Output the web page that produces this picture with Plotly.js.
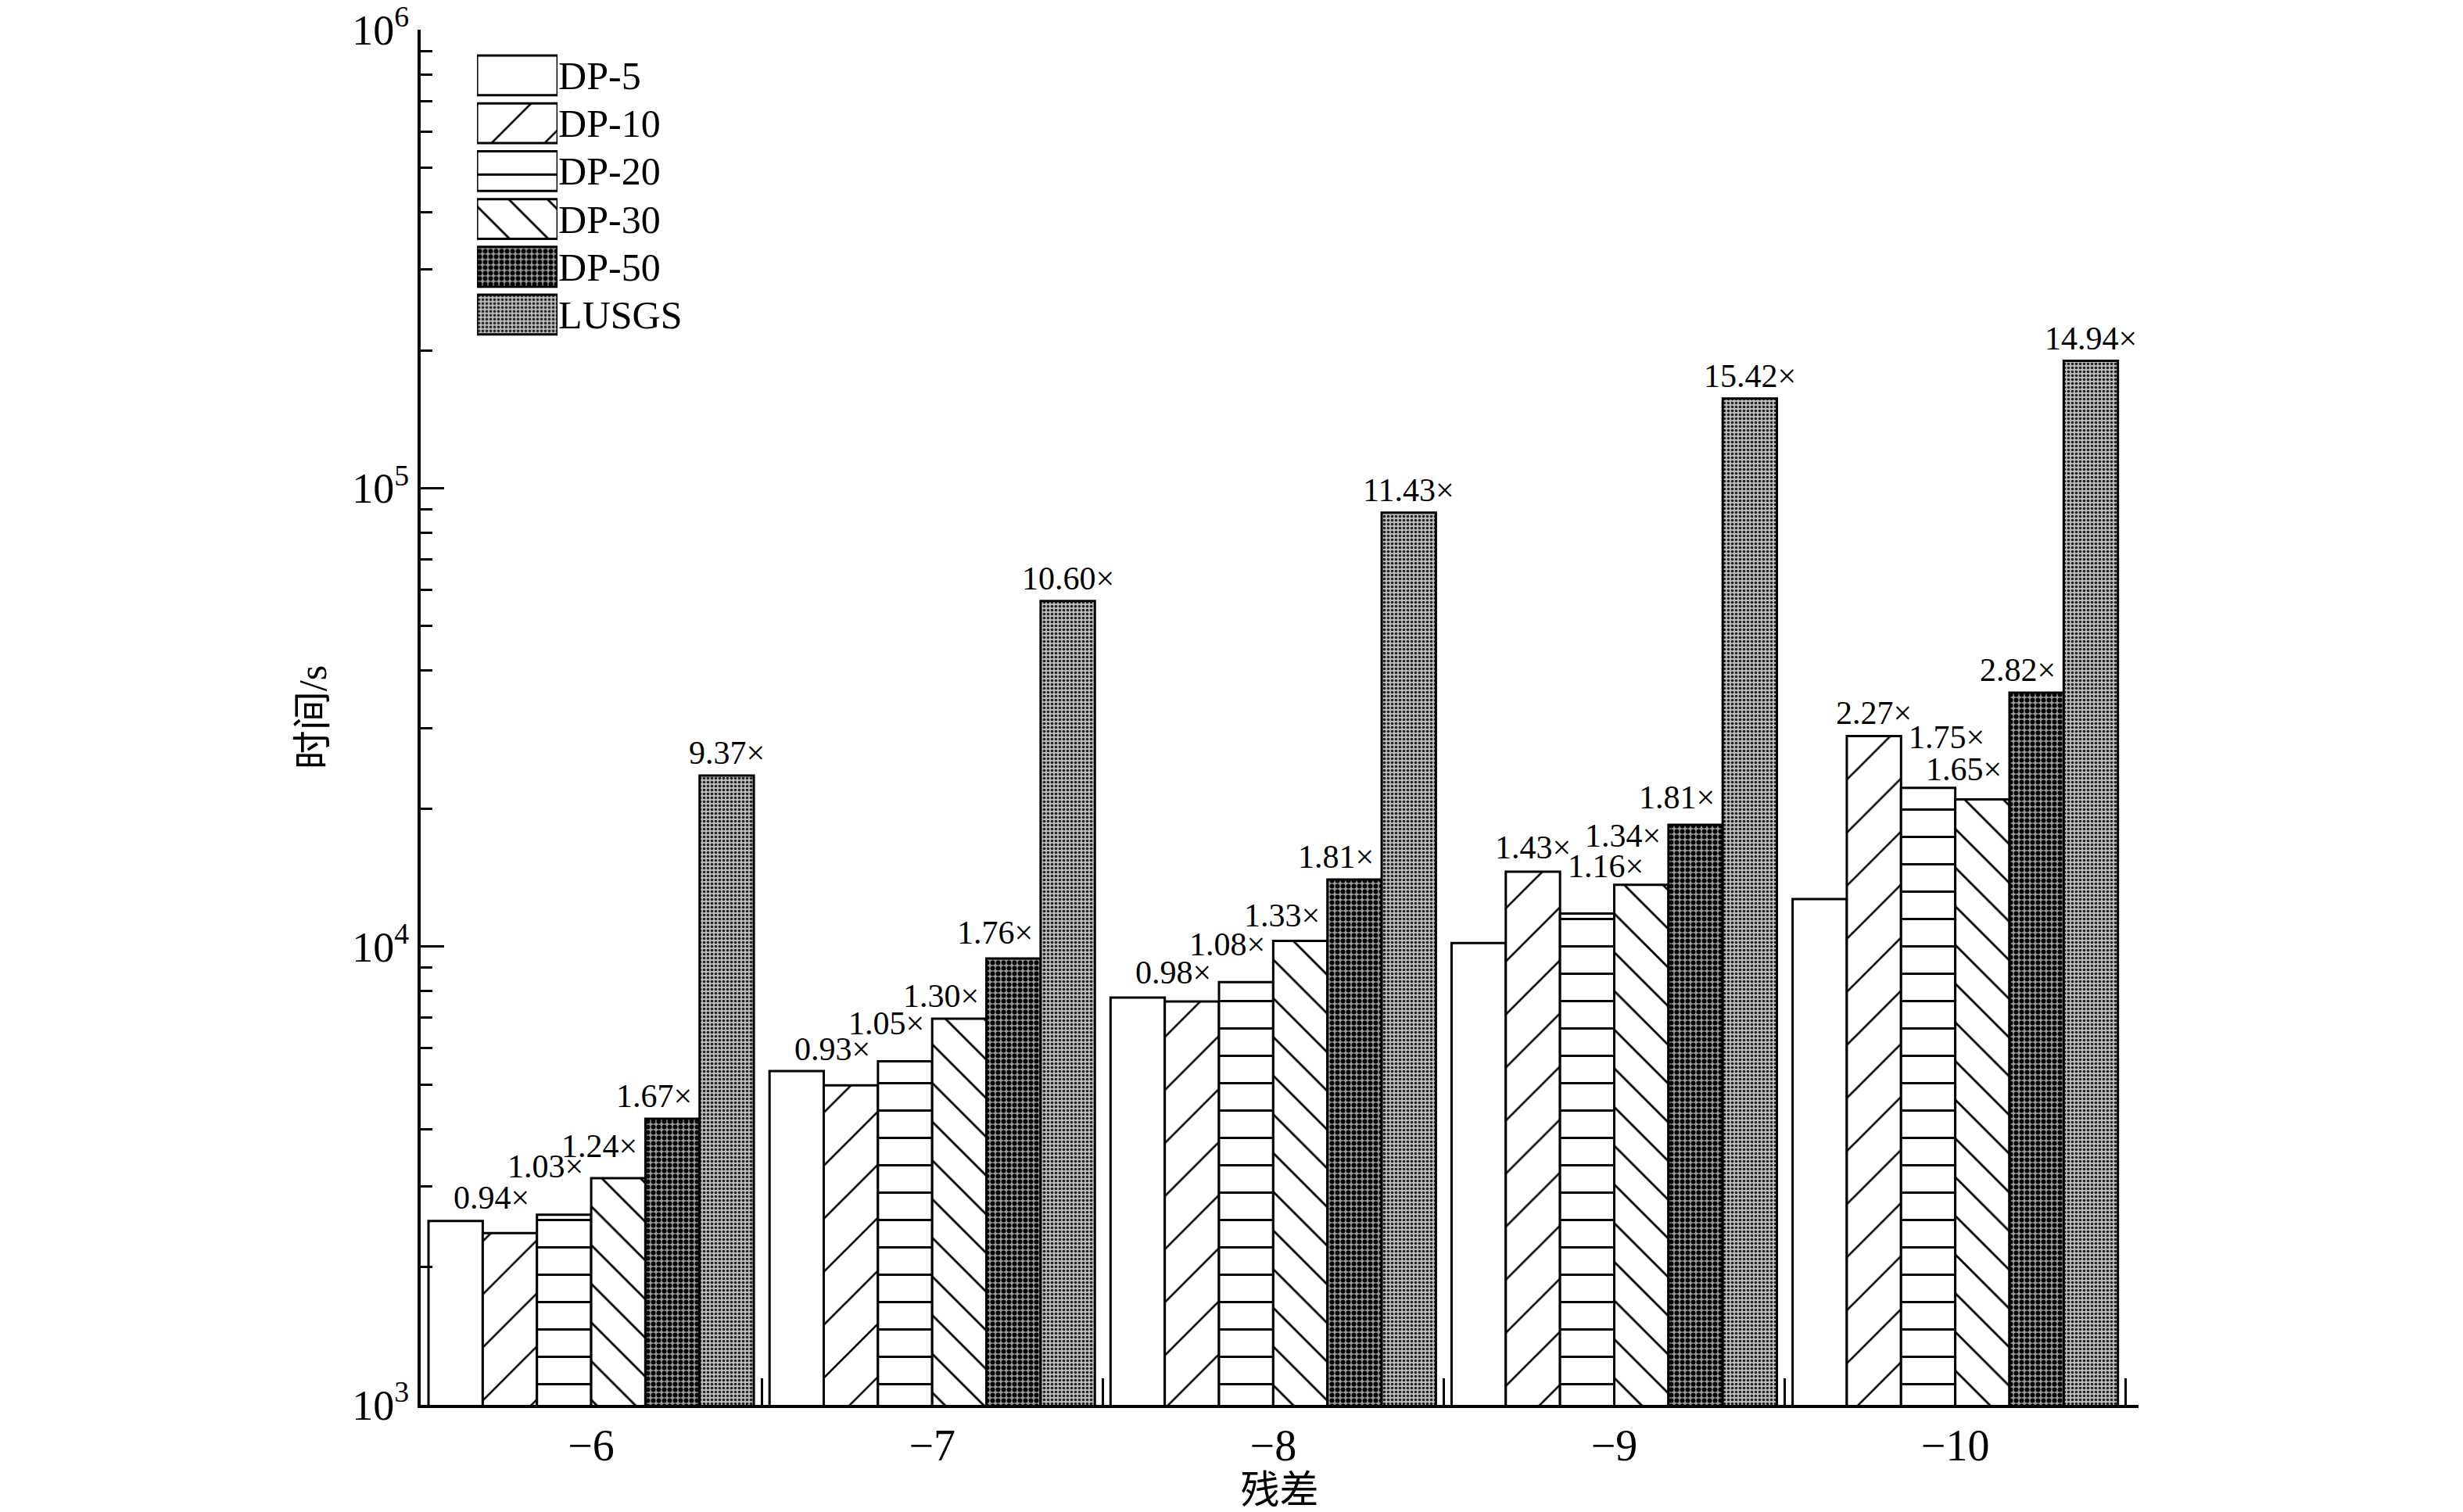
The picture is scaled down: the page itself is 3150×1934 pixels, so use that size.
<!DOCTYPE html>
<html>
<head>
<meta charset="utf-8">
<script src="https://cdn.plot.ly/plotly-3.0.1.min.js"></script>
<style>
  html, body { margin: 0; padding: 0; background: #fff; }
  #chart { width: 3150px; height: 1934px; }
</style>
</head>
<body>
<div id="chart"></div>
<script>
/* ── Data ────────────────────────────────────────────────── */
const categories = ['\u22126', '\u22127', '\u22128', '\u22129', '\u221210'];
const seriesNames = ['DP-5', 'DP-10', 'DP-20', 'DP-30', 'DP-50', 'LUSGS'];

const dp5   = [2520, 5350, 7740, 10180, 12690];
const dp10  = [2370, 4980, 7590, 14560, 28800];
const dp20  = [2600, 5620, 8360, 11810, 22200];
const dp30  = [3125, 6960, 10290, 13640, 20940];
const dp50  = [4210, 9420, 14010, 18430, 35790];
const lusgs = [23600, 56750, 88470, 157000, 189600];

const dp10Ratio  = ['0.94×', '0.93×', '0.98×', '1.43×', '2.27×'];
const dp20Ratio  = ['1.03×', '1.05×', '1.08×', '1.16×', '1.75×'];
const dp30Ratio  = ['1.24×', '1.30×', '1.33×', '1.34×', '1.65×'];
const dp50Ratio  = ['1.67×', '1.76×', '1.81×', '1.81×', '2.82×'];
const lusgsRatio = ['9.37×', '10.60×', '11.43×', '15.42×', '14.94×'];

const yTickVals = [1000, 10000, 100000, 1000000];
const yTickText = ['10<sup>3</sup>', '10<sup>4</sup>', '10<sup>5</sup>', '10<sup>6</sup>'];

/* ── Styles ───────────────────────────────────────────────── */
const FONT = 'Liberation Serif, "Noto Sans CJK SC", serif';
const BARGAP = 0.046;
const styles = [
  { shape: '',   fg: '#000', bg: '#fff',    size: 10, solidity: 0.2 },
  { shape: '/',  fg: '#000', bg: '#fff',    size: 48, solidity: 0.055 },
  { shape: '-',  fg: '#000', bg: '#fff',    size: 35, solidity: 0.08 },
  { shape: '\\', fg: '#000', bg: '#fff',    size: 35, solidity: 0.08 },
  { shape: '.',  fg: '#000', bg: '#9a9a9a', size: 7,  solidity: 0.55 },
  { shape: '.',  fg: '#222', bg: '#bcbcbc', size: 5,  solidity: 0.42 }
];

/* label placement: anchor against the bar ('r' right edge, 'c' centre, 'l' left edge)
   and extra lift in px, per group, copied from the hand-placed reference labels */
const labelAnchor = [
  null,
  ['r', 'r', 'r', 'c', 'c'],
  ['r', 'r', 'r', 'l', 'l'],
  ['r', 'r', 'r', 'r', 'r'],
  ['r', 'r', 'r', 'r', 'r'],
  ['c', 'c', 'c', 'c', 'c']
];
const labelLift = [
  null,
  [16, 17, 8, 2, 0],
  [33, 19, 19, 31, 36],
  [12, 0, 3, 34, 10],
  [0, 4, 0, 6, 0],
  [0, 0, 0, 0, 0]
];

const values = [dp5, dp10, dp20, dp30, dp50, lusgs];
const labels = [null, dp10Ratio, dp20Ratio, dp30Ratio, dp50Ratio, lusgsRatio];

function patternOf(s) {
  return { shape: s.shape, fgcolor: s.fg, bgcolor: s.bg, size: s.size,
           solidity: s.solidity, fillmode: 'replace' };
}

/* ── Main bars ────────────────────────────────────────────── */
const traces = values.map((v, i) => ({
  type: 'bar',
  x: categories,
  y: v,
  name: seriesNames[i],
  offsetgroup: 'g' + i,
  showlegend: false,
  marker: {
    color: styles[i].bg,
    line: { color: '#000', width: 3 },
    pattern: patternOf(styles[i])
  }
}));

/* ── Legend drawn as a tiny bar subplot (big patterned swatches) ── */
seriesNames.forEach((name, i) => {
  traces.push({
    type: 'bar',
    orientation: 'h',
    xaxis: 'x2', yaxis: 'y2',
    y: [name],
    x: [1],
    width: 0.83,
    offsetgroup: 'legend',
    showlegend: false,
    hoverinfo: 'skip',
    marker: {
      color: styles[i].bg,
      line: { color: '#000', width: 3 },
      pattern: patternOf(styles[i])
    }
  });
});

/* ── Ratio labels, placed from the bar geometry ──────────── */
const barW = (1 - BARGAP) / seriesNames.length;
const annotations = [];
labels.forEach((lab, i) => {
  if (!lab) return;
  lab.forEach((t, c) => {
    const centre = c + (i - (seriesNames.length - 1) / 2) * barW;
    const a = labelAnchor[i][c];
    let x = centre, xanchor = 'center', xshift = 0;
    if (a === 'r') { x = centre + barW / 2; xanchor = 'right'; xshift = -8; }
    if (a === 'l') { x = centre - barW / 2; xanchor = 'left'; xshift = 8; }
    annotations.push({
      xref: 'x', yref: 'y',
      x: x, y: Math.log10(values[i][c]),
      xanchor: xanchor, yanchor: 'bottom',
      xshift: xshift, yshift: 4 + labelLift[i][c],
      text: t, showarrow: false,
      font: { family: FONT, size: 42, color: '#000' }
    });
  });
});

const layout = {
  width: 3150,
  height: 1934,
  margin: { l: 538, r: 415, t: 38, b: 137 },
  paper_bgcolor: '#fff',
  plot_bgcolor: '#fff',
  font: { family: FONT, size: 50, color: '#000' },
  barmode: 'group',
  bargap: BARGAP,
  bargroupgap: 0,
  showlegend: false,
  annotations: annotations,
  xaxis: {
    type: 'category',
    showline: true, linecolor: '#000', linewidth: 4,
    ticks: 'inside', tickson: 'boundaries', ticklen: 34, tickwidth: 3, tickcolor: '#000',
    tickfont: { family: FONT, size: 56 },
    showgrid: false, zeroline: false,
    title: { text: '残差', font: { family: FONT, size: 50 }, standoff: 10 }
  },
  yaxis: {
    type: 'log',
    range: [3, 6.0004],
    tickvals: yTickVals,
    ticktext: yTickText,
    ticklabeloverflow: 'allow',
    showline: true, linecolor: '#000', linewidth: 4,
    ticks: 'inside', ticklen: 30, tickwidth: 3, tickcolor: '#000',
    minor: { ticks: 'inside', ticklen: 15, tickwidth: 3, tickcolor: '#000', dtick: 'D1', showgrid: false },
    tickfont: { family: FONT, size: 54 },
    showgrid: false, zeroline: false,
    title: { text: '时间/s', font: { family: FONT, size: 50 }, standoff: 18 }
  },
  xaxis2: {
    domain: [0.0328, 0.0797], anchor: 'y2', range: [0, 1], visible: false, fixedrange: true
  },
  yaxis2: {
    domain: [0.7754, 0.9842], anchor: 'x2', type: 'category', autorange: 'reversed',
    side: 'right', showline: false, showgrid: false, zeroline: false, ticks: '',
    tickfont: { family: FONT, size: 50 }
  }
};

Plotly.newPlot('chart', traces, layout, { displayModeBar: false, staticPlot: true });
</script>
</body>
</html>
